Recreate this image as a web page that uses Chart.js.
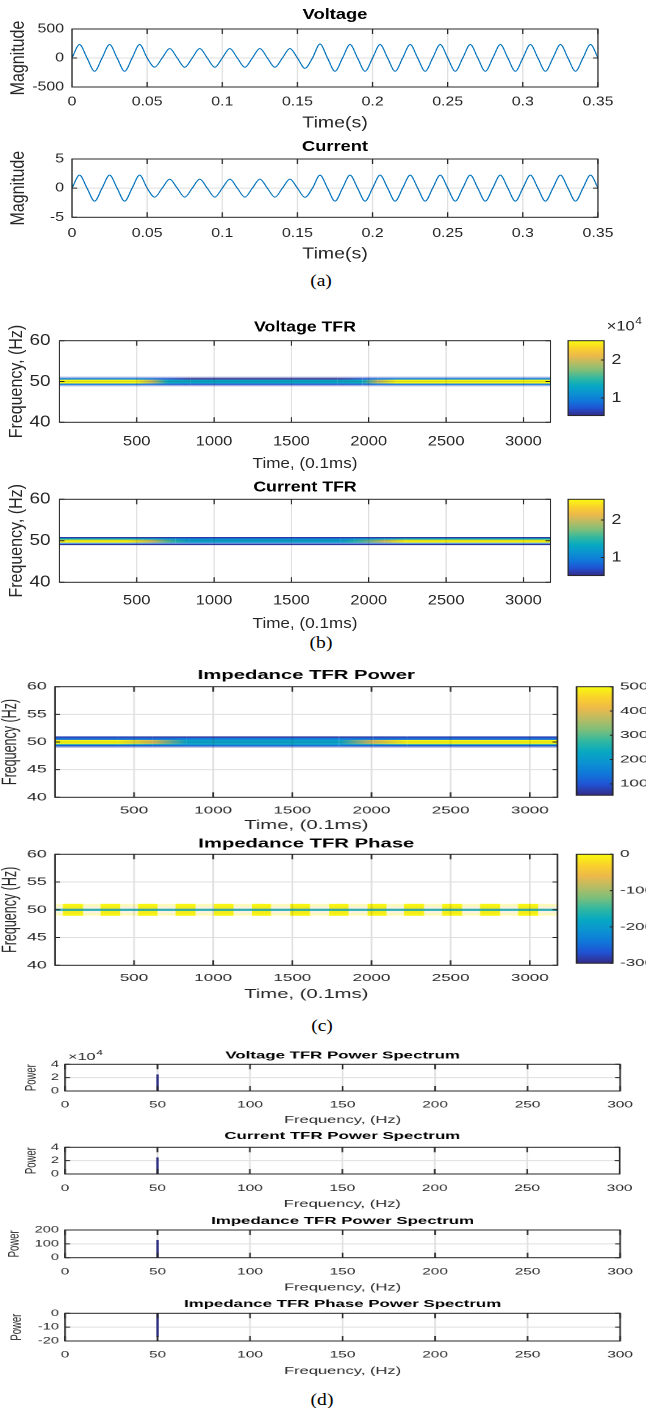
<!DOCTYPE html>
<html>
<head>
<meta charset="utf-8">
<script src="https://cdn.jsdelivr.net/npm/chart.js@4.4.1/dist/chart.umd.min.js"></script>
<style>
  html, body { margin: 0; padding: 0; background: #fff; }
  #fig { position: relative; width: 646px; height: 1408px; overflow: hidden; background: #fff; }
  .panel { position: absolute; left: 0; transform-origin: 0 0; }
  .panel canvas { display: block; }
  .cap { position: absolute; font-family: "Liberation Serif", "Times New Roman", serif; font-size: 17px; color: #000;
         transform: translate(-50%, -50%) scaleX(1.15); white-space: nowrap; }
</style>
</head>
<body>
<div id="fig">
  <div class="cap" style="left:321px;top:281px">(a)</div>
  <div class="cap" style="left:321px;top:643px">(b)</div>
  <div class="cap" style="left:322px;top:1026px">(c)</div>
  <div class="cap" style="left:322px;top:1400px">(d)</div>
</div>
<script>
// ---------- (a) voltage / current waveforms: zero crossings and peaks every quarter cycle ----------
const sigTime = [0, 0.005, 0.01, 0.015, 0.02, 0.025, 0.03, 0.035, 0.04, 0.045, 0.05, 0.055, 0.06, 0.065, 0.07, 0.075,
  0.08, 0.085, 0.09, 0.095, 0.1, 0.105, 0.11, 0.115, 0.12, 0.125, 0.13, 0.135, 0.14, 0.145, 0.15, 0.155, 0.16, 0.165,
  0.17, 0.175, 0.18, 0.185, 0.19, 0.195, 0.2, 0.205, 0.21, 0.215, 0.22, 0.225, 0.23, 0.235, 0.24, 0.245, 0.25, 0.255,
  0.26, 0.265, 0.27, 0.275, 0.28, 0.285, 0.29, 0.295, 0.3, 0.305, 0.31, 0.315, 0.32, 0.325, 0.33, 0.335, 0.34, 0.345, 0.35];
const voltSig = [
  0, 232, 0, -228,  0, 232, 0, -228,  0, 232, 0, -158,  0, 164, 0, -160,
  0, 164, 0, -160,  0, 164, 0, -160,  0, 164, 0, -160,  0, 164, 0, -178,
  0, 242, 0, -228,  0, 232, 0, -228,  0, 232, 0, -228,  0, 232, 0, -228,
  0, 232, 0, -228,  0, 232, 0, -228,  0, 232, 0, -228,  0, 232, 0, -228,
  0, 232, 0, -228,  0, 232, 0];
const currSig = [
  0, 2.23, 0, -2.23,  0, 2.23, 0, -2.23,  0, 2.23, 0, -1.55,  0, 1.55, 0, -1.55,
  0, 1.55, 0, -1.55,  0, 1.55, 0, -1.55,  0, 1.55, 0, -1.55,  0, 1.55, 0, -1.58,
  0, 2.23, 0, -2.23,  0, 2.23, 0, -2.23,  0, 2.23, 0, -2.23,  0, 2.23, 0, -2.23,
  0, 2.23, 0, -2.23,  0, 2.23, 0, -2.23,  0, 2.23, 0, -2.23,  0, 2.23, 0, -2.23,
  0, 2.23, 0, -2.23,  0, 2.23, 0];
const sigTicksX = [0, 0.05, 0.1, 0.15, 0.2, 0.25, 0.3, 0.35];
const voltTicksY = [-500, 0, 500];
const currTicksY = [-5, 0, 5];

// ---------- (b) voltage / current TFR around 50 Hz ----------
const tfrTicksX = [500, 1000, 1500, 2000, 2500, 3000];
const tfrTicksYb = [40, 50, 60];
const vTfrT = [1, 490, 600, 700, 850, 1800, 1960, 2060, 2180, 3175];
const vTfrEdges = [51.15, 50.85, 50.45, 49.55, 49.15, 48.85];
const vTfrAlpha = [0.35, 0.85, 1, 0.9, 0.35];
const vTfrVal = [
  [7000, 7000, 7000, 6500, 6000, 6000, 6500, 7000, 7000, 7000],
  [10000, 10000, 9000, 7500, 5800, 5800, 7500, 9000, 10000, 10000],
  [24900, 24900, 19500, 13500, 13000, 13000, 13500, 19500, 24900, 24900],
  [9500, 9500, 9000, 8000, 7500, 7500, 8000, 9000, 9500, 9500],
  [7000, 7000, 7000, 6500, 6000, 6000, 6500, 7000, 7000, 7000]];
const vTfrRange = [5400, 25050];
const vTfrBarTicks = [10000, 20000];

const cTfrT = [1, 440, 600, 750, 840, 1820, 1910, 2100, 2240, 3175];
const cTfrEdges = [50.9, 50.65, 50.3, 49.6, 49.25, 49.0];
const cTfrAlpha = [1, 1, 1, 0.6, 1];
const cTfrVal = [
  [0.6, 0.6, 0.6, 0.6, 0.6, 0.6, 0.6, 0.6, 0.6, 0.6],
  [1.35, 1.35, 1.25, 1.1, 1.0, 1.0, 1.1, 1.25, 1.35, 1.35],
  [2.52, 2.52, 2.0, 1.45, 1.25, 1.25, 1.45, 2.0, 2.52, 2.52],
  [0.9, 0.9, 0.85, 0.8, 0.8, 0.8, 0.8, 0.85, 0.9, 0.9],
  [0.58, 0.58, 0.58, 0.58, 0.58, 0.58, 0.58, 0.58, 0.58, 0.58]];
const cTfrRange = [0.52, 2.55];
const cTfrBarTicks = [1, 2];

// ---------- (c) impedance TFR power and phase ----------
const tfrTicksYc = [40, 45, 50, 55, 60];
const zTfrT = [1, 400, 620, 835, 1795, 2010, 2225, 3175];
const zTfrEdges = [51.0, 50.76, 50.4, 49.68, 49.5, 49.23, 49.0];
const zTfrAlpha = [1, 1, 1, 1, 1, 0.45];
const zTfrVal = [
  [800, 800, 750, 700, 700, 750, 800, 800],
  [1300, 1300, 1300, 1500, 1500, 1300, 1300, 1300],
  [4950, 4950, 3900, 2200, 2200, 3900, 4950, 4950],
  [2800, 2800, 2500, 2000, 2000, 2500, 2800, 2800],
  [1100, 1100, 1150, 1300, 1300, 1150, 1100, 1100],
  [700, 700, 700, 700, 700, 700, 700, 700]];
const zTfrRange = [530, 5000];
const zTfrBarTicks = [1000, 2000, 3000, 4000, 5000];

const phT = [1, 3175];
const phEdges = [51.05, 50.65, 50.2, 49.8, 49.35, 48.95];
const phAlpha = [0.3, 0.18, 0.85, 0.18, 0.3];
const phVal = [[-60, -60], [-700, -700], [-1700, -1700], [-700, -700], [-60, -60]];
const phBlockStart = [51, 289, 525, 762, 1005, 1245, 1486, 1732, 1975, 2206, 2446, 2686, 2926];
const phBlockEnd = [178, 412, 649, 889, 1129, 1365, 1612, 1855, 2095, 2332, 2572, 2812, 3052];
const phBlockVal = -40;
const phRange = [-3000, 0];
const phBarTicks = [-3000, -2000, -1000, 0];

// ---------- (d) power spectra ----------
const specTicksX = [0, 50, 100, 150, 200, 250, 300];
const specFreq = [50];
const voltSpec = [25000];
const currSpec = [2.5];
const impSpec = [128];
const phaseSpec = [-17];

// ---------- drawing helpers ----------
Chart.defaults.font.family = '"Liberation Sans", Arial, Helvetica, sans-serif';
Chart.defaults.color = '#262626';

const FIG_W = 646, LH = 1.2;
const INK = '#262626';
const GRID_INK = 'rgba(38,38,38,0.15)';
const LINE_BLUE = '#0072bd';
const SPIKE = '#31318f';
const PARULA = [[53, 42, 135], [32, 83, 212], [16, 121, 218], [12, 147, 210], [7, 169, 194], [50, 184, 160],
  [124, 191, 123], [183, 189, 100], [237, 185, 75], [250, 210, 43], [249, 251, 14]];

function parula(v, lo, hi, a) {
  const f = Math.min(1, Math.max(0, (v - lo) / (hi - lo))) * (PARULA.length - 1);
  const i = Math.min(PARULA.length - 2, Math.floor(f)), t = f - i;
  const c = PARULA[i].map((x, k) => Math.round(x + (PARULA[i + 1][k] - x) * t));
  return 'rgba(' + c[0] + ',' + c[1] + ',' + c[2] + ',' + (a == null ? 1 : a) + ')';
}

const gctx = document.createElement('canvas').getContext('2d');
function hGrad(x0, x1, c0, c1) {
  if (c0 === c1) return c0;
  const g = gctx.createLinearGradient(x0, 0, x1, 0);
  g.addColorStop(0, c0);
  g.addColorStop(1, c1);
  return g;
}

function bandWidth(chart, f0, f1) {
  const y = chart.scales.y;
  return Math.abs(y.getPixelForValue(f0) - y.getPixelForValue(f1)) + 0.25;
}

// one line per frequency row, coloured along time with interpolated colormap values
function heatRows(times, edges, vals, alphas, range) {
  return vals.map((row, i) => {
    const fTop = edges[i], fBot = edges[i + 1];
    const cols = row.map(v => parula(v, range[0], range[1], alphas[i]));
    return {
      data: times.map(t => ({x: t, y: (fTop + fBot) / 2})),
      borderColor: cols[0],
      borderWidth: c => bandWidth(c.chart, fTop, fBot),
      segment: {borderColor: s => hGrad(s.p0.x, s.p1.x, cols[s.p0DataIndex], cols[s.p1DataIndex])},
      pointRadius: 0, borderCapStyle: 'butt'
    };
  });
}

function blockRow(starts, ends, f0, f1, color) {
  const fc = (f0 + f1) / 2;
  return {
    data: starts.flatMap((s, i) => [{x: s, y: fc}, {x: ends[i], y: fc}, {x: ends[i], y: null}]),
    borderColor: color, borderWidth: c => bandWidth(c.chart, f0, f1),
    pointRadius: 0, spanGaps: false, borderCapStyle: 'butt'
  };
}

function spikes(freqs, vals) {
  return [{
    data: freqs.flatMap((f, i) => [{x: f, y: 0}, {x: f, y: vals[i]}, {x: f, y: null}]),
    borderColor: SPIKE, borderWidth: 1.4, pointRadius: 0, spanGaps: false
  }];
}

function wave(vals) {
  return [{
    data: sigTime.map((t, i) => ({x: t, y: vals[i]})),
    borderColor: LINE_BLUE, borderWidth: 1, pointRadius: 0, cubicInterpolationMode: 'monotone'
  }];
}

// box, inner ticks and grid drawn on top like MATLAB axes
const matlabAxes = {
  id: 'matlabAxes',
  afterDatasetsDraw(chart, args, o) {
    const {ctx, chartArea: a, scales} = chart;
    const xs = scales.x, ys = scales.y, S = o.stretch || 1, tl = o.tickLen || 5;
    const seg = (x0, y0, x1, y1) => { ctx.moveTo(x0, y0); ctx.lineTo(x1, y1); };
    ctx.save();
    ctx.lineWidth = 1;
    if (o.grid) {
      ctx.strokeStyle = GRID_INK;
      ctx.beginPath();
      xs.ticks.forEach(t => {
        const p = xs.getPixelForValue(t.value);
        if (p > a.left + 0.5 && p < a.right - 0.5) seg(p, a.top, p, a.bottom);
      });
      ys.ticks.forEach(t => {
        const p = ys.getPixelForValue(t.value);
        if (p > a.top + 0.5 && p < a.bottom - 0.5) seg(a.left, p, a.right, p);
      });
      ctx.stroke();
    }
    ctx.strokeStyle = INK;
    ctx.beginPath();
    if (o.xTicks !== false) {
      xs.ticks.forEach(t => {
        const p = xs.getPixelForValue(t.value);
        seg(p, a.bottom, p, a.bottom - tl);
        seg(p, a.top, p, a.top + tl);
      });
    }
    ys.ticks.forEach(t => {
      const p = ys.getPixelForValue(t.value);
      if (o.yLeft !== false) seg(a.left, p, a.left + tl / S, p);
      seg(a.right, p, a.right - tl / S, p);
    });
    ctx.stroke();
    ctx.strokeRect(a.left, a.top, a.right - a.left, a.bottom - a.top);
    if (o.note) {
      const n = o.note;
      ctx.fillStyle = INK;
      ctx.textAlign = 'left';
      ctx.textBaseline = 'middle';
      ctx.font = n.size + 'px ' + Chart.defaults.font.family;
      const x0 = a.left + n.dx, y0 = a.top + n.dy;
      ctx.fillText(n.text, x0, y0);
      const w = ctx.measureText(n.text).width;
      ctx.font = (n.size * 0.72) + 'px ' + Chart.defaults.font.family;
      ctx.fillText(n.sup, x0 + w + 0.5, y0 - n.size * 0.38);
    }
    ctx.restore();
  }
};

const fig = document.getElementById('fig');
function addCanvas(top, height, S) {
  const W = Math.round(FIG_W / S);
  const wrap = document.createElement('div');
  wrap.className = 'panel';
  wrap.style.top = top + 'px';
  wrap.style.transform = 'scaleX(' + S + ')';
  const cv = document.createElement('canvas');
  cv.width = W;
  cv.height = height;
  wrap.appendChild(cv);
  fig.appendChild(wrap);
  return {cv, W};
}

function axesChart(p) {
  const top = Math.floor(p.titleY - p.titleSize * LH / 2 - 2);
  const bottom = Math.ceil(p.xTitleY + p.xTitleSize * LH / 2 + 3);
  const {cv, W} = addCanvas(top, bottom - top, p.S);
  const fmt = p.fmt || (v => String(v));
  return new Chart(cv, {
    type: 'line',
    data: {datasets: p.datasets},
    plugins: [matlabAxes],
    options: {
      responsive: false, animation: false, devicePixelRatio: 2, events: [],
      layout: {padding: {left: 0, top: 0, bottom: 0, right: W - p.r / p.S}},
      plugins: {
        legend: {display: false},
        tooltip: {enabled: false},
        title: {
          display: true, text: p.title, fullSize: false, color: '#000',
          font: {size: p.titleSize, weight: 'bold', lineHeight: LH},
          padding: {top: p.titleY - top - p.titleSize * LH / 2, bottom: p.t - p.titleY - p.titleSize * LH / 2}
        },
        matlabAxes: {grid: true, stretch: p.S, tickLen: 5, note: p.note}
      },
      scales: {
        x: {
          type: 'linear', min: p.xMin, max: p.xMax, offset: false,
          afterBuildTicks: s => { s.ticks = p.xTicks.map(v => ({value: v})); },
          afterFit: s => { s.height = bottom - p.b; },
          grid: {display: false, drawTicks: false}, border: {display: false},
          ticks: {
            autoSkip: false, maxRotation: 0, color: INK,
            font: {size: p.xTickSize, lineHeight: LH},
            padding: p.tickY - p.b - p.xTickSize * LH / 2,
            callback: v => String(v)
          },
          title: {
            display: true, text: p.xTitle, color: INK,
            font: {size: p.xTitleSize, lineHeight: LH},
            padding: {top: 0, bottom: bottom - p.xTitleY - p.xTitleSize * LH / 2}
          }
        },
        y: {
          type: 'linear', min: p.yMin, max: p.yMax,
          afterBuildTicks: s => { s.ticks = p.yTicks.map(v => ({value: v})); },
          afterFit: s => { s.width = p.l / p.S; },
          grid: {display: false, drawTicks: false}, border: {display: false},
          ticks: {
            autoSkip: false, color: INK,
            font: {size: p.yTickSize, lineHeight: LH},
            padding: p.yGap / p.S,
            callback: fmt
          },
          title: {
            display: true, text: p.yTitle, color: INK,
            font: {size: p.yTitleSize, lineHeight: LH},
            padding: {top: p.yTitleX / p.S - p.yTitleSize * LH / 2, bottom: 0}
          }
        }
      }
    }
  });
}

function colorbarChart(p) {
  const top = Math.floor(p.t - 26), bottom = Math.ceil(p.b + 8);
  const {cv, W} = addCanvas(top, bottom - top, p.S);
  return new Chart(cv, {
    type: 'line',
    data: {
      datasets: [
        {
          data: [{x: 0, y: p.range[1]}, {x: 1, y: p.range[1]}],
          fill: 'start', borderWidth: 0, pointRadius: 0,
          backgroundColor: c => {
            const a = c.chart.chartArea;
            if (!a) return parula(0, 0, 1);
            const g = c.chart.ctx.createLinearGradient(0, a.bottom, 0, a.top);
            PARULA.forEach((col, i) => g.addColorStop(i / (PARULA.length - 1), 'rgb(' + col.join(',') + ')'));
            return g;
          }
        },
        {
          data: [{x: 0, y: p.range[0]}, {x: 1, y: p.range[1]}],
          borderColor: 'rgba(255,255,255,0.7)', borderWidth: 1, pointRadius: 0, fill: false
        }
      ]
    },
    plugins: [matlabAxes],
    options: {
      responsive: false, animation: false, devicePixelRatio: 2, events: [],
      layout: {padding: {left: p.l / p.S, right: 0, top: p.t - top, bottom: bottom - p.b}},
      plugins: {
        legend: {display: false},
        tooltip: {enabled: false},
        matlabAxes: {grid: false, xTicks: false, yLeft: false, stretch: p.S, tickLen: 3, note: p.note}
      },
      scales: {
        x: {type: 'linear', min: 0, max: 1, display: false},
        y: {
          type: 'linear', position: 'right', min: p.range[0], max: p.range[1],
          afterBuildTicks: s => { s.ticks = p.ticks.map(v => ({value: v})); },
          afterFit: s => { s.width = W - p.r / p.S; },
          grid: {display: false, drawTicks: false}, border: {display: false},
          ticks: {autoSkip: false, color: INK, font: {size: p.tickSize}, padding: p.gap / p.S, callback: p.fmt || (v => String(v))}
        }
      }
    }
  });
}

// ---------- (a) ----------
const panelA = {S: 1.22, l: 72, r: 598, titleSize: 15, xTitle: 'Time(s)', xTitleSize: 16, xTickSize: 13,
  yTickSize: 13, yGap: 8, yTitle: 'Magnitude', yTitleX: 18.6, yTitleSize: 16, xMin: 0, xMax: 0.35, xTicks: sigTicksX};
axesChart(Object.assign({}, panelA, {t: 29, b: 87, title: 'Voltage', titleY: 15, tickY: 101.7, xTitleY: 123.3,
  yMin: -500, yMax: 500, yTicks: voltTicksY, datasets: wave(voltSig)}));
axesChart(Object.assign({}, panelA, {t: 159, b: 217.3, title: 'Current', titleY: 146.7, tickY: 233.3, xTitleY: 254.3,
  yMin: -5, yMax: 5, yTicks: currTicksY, datasets: wave(currSig)}));

// ---------- (b) ----------
const panelB = {S: 1.18, l: 59.5, r: 550.5, titleSize: 15, xTitle: 'Time, (0.1ms)', xTitleSize: 14.5, xTickSize: 14,
  yTickSize: 16, yGap: 9, yTitle: 'Frequency, (Hz)', yTitleX: 16.5, yTitleSize: 16, xMin: 1, xMax: 3175,
  xTicks: tfrTicksX, yMin: 40, yMax: 60, yTicks: tfrTicksYb};
axesChart(Object.assign({}, panelB, {t: 340.7, b: 422.3, title: 'Voltage TFR', titleY: 327.3, tickY: 441.7, xTitleY: 464,
  datasets: heatRows(vTfrT, vTfrEdges, vTfrVal, vTfrAlpha, vTfrRange)}));
colorbarChart({S: 1.18, l: 568, r: 604, t: 340.7, b: 422.3, range: vTfrRange, ticks: vTfrBarTicks, tickSize: 15, gap: 7.6,
  fmt: v => String(v / 1e4), note: {text: '\u00d710', sup: '4', size: 14, dx: (606.6 - 568) / 1.18, dy: -14}});
axesChart(Object.assign({}, panelB, {t: 499.3, b: 582.3, title: 'Current TFR', titleY: 487.3, tickY: 600.7, xTitleY: 624,
  datasets: heatRows(cTfrT, cTfrEdges, cTfrVal, cTfrAlpha, cTfrRange)}));
colorbarChart({S: 1.18, l: 568, r: 604, t: 499.3, b: 582.3, range: cTfrRange, ticks: cTfrBarTicks, tickSize: 15, gap: 7.6});

// ---------- (c) ----------
const panelC = {S: 1.62, l: 55, r: 557.5, titleSize: 12.5, xTitle: 'Time, (0.1ms)', xTitleSize: 12.5, xTickSize: 10.5,
  yTickSize: 11, yGap: 8.3, yTitle: 'Frequency (Hz)', yTitleX: 10.3, yTitleSize: 12.5, xMin: 1, xMax: 3175,
  xTicks: tfrTicksX, yMin: 40, yMax: 60, yTicks: tfrTicksYc};
axesChart(Object.assign({}, panelC, {t: 686.7, b: 797.3, title: 'Impedance TFR Power', titleY: 675.7, tickY: 810.7,
  xTitleY: 825.7, datasets: heatRows(zTfrT, zTfrEdges, zTfrVal, zTfrAlpha, zTfrRange)}));
colorbarChart({S: 1.62, l: 576.5, r: 612.8, t: 686.7, b: 797.3, range: zTfrRange, ticks: zTfrBarTicks, tickSize: 10.5, gap: 7.2});
axesChart(Object.assign({}, panelC, {t: 854.3, b: 965.3, title: 'Impedance TFR Phase', titleY: 844, tickY: 978.3,
  xTitleY: 994.3, datasets: heatRows(phT, phEdges, phVal, phAlpha, phRange).concat(
    [blockRow(phBlockStart, phBlockEnd, phEdges[phEdges.length - 1], phEdges[0], parula(phBlockVal, phRange[0], phRange[1]))])}));
colorbarChart({S: 1.62, l: 576.5, r: 612.8, t: 854.3, b: 965.3, range: phRange, ticks: phBarTicks, tickSize: 10.5, gap: 7.2});

// ---------- (d) ----------
const panelD = {S: 1.62, l: 65, r: 622.7, titleSize: 10.4, xTitle: 'Frequency, (Hz)', xTitleSize: 10.2, xTickSize: 9.5,
  yTickSize: 9, yGap: 6, yTitle: 'Power', yTitleSize: 9.5, xMin: 0, xMax: 300, xTicks: specTicksX};
axesChart(Object.assign({}, panelD, {t: 1064.3, b: 1091, title: 'Voltage TFR Power Spectrum', titleY: 1055.7,
  tickY: 1105, xTitleY: 1120, yTitleX: 31.4, yMin: 0, yMax: 40000, yTicks: [0, 20000, 40000], fmt: v => String(v / 1e4),
  note: {text: '\u00d710', sup: '4', size: 10, dx: 3 / 1.62, dy: -7.3}, datasets: spikes(specFreq, voltSpec)}));
axesChart(Object.assign({}, panelD, {t: 1147.3, b: 1174, title: 'Current TFR Power Spectrum', titleY: 1136,
  tickY: 1188.3, xTitleY: 1204.3, yTitleX: 31.4, yMin: 0, yMax: 4, yTicks: [0, 2, 4], datasets: spikes(specFreq, currSpec)}));
axesChart(Object.assign({}, panelD, {t: 1230, b: 1257.7, title: 'Impedance TFR Power Spectrum', titleY: 1221,
  tickY: 1271.7, xTitleY: 1287.7, yTitleX: 14, yMin: 0, yMax: 200, yTicks: [0, 100, 200], datasets: spikes(specFreq, impSpec)}));
axesChart(Object.assign({}, panelD, {t: 1313.3, b: 1341, title: 'Impedance TFR Phase Power Spectrum', titleY: 1304,
  tickY: 1355, xTitleY: 1371, yTitleX: 17, yMin: -20, yMax: 0, yTicks: [-20, -10, 0], datasets: spikes(specFreq, phaseSpec)}));
</script>
</body>
</html>
